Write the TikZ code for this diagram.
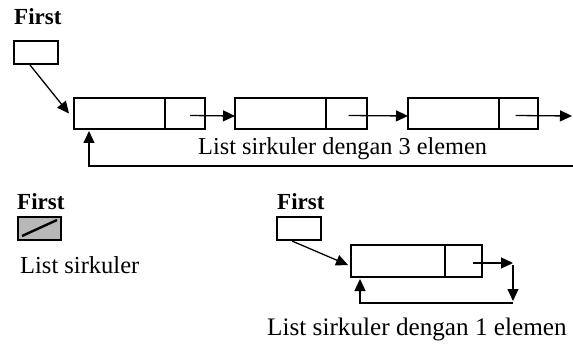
\documentclass[tikz,border=0pt]{standalone}
\usepackage{fontspec}
\setmainfont{Liberation Serif}
\usetikzlibrary{arrows.meta}
\begin{document}
\begin{tikzpicture}[x=1pt,y=-1pt,
  cell/.style={draw,line width=2pt,inner sep=0pt,outer sep=0pt,anchor=north west,minimum height=31pt},
  fbox/.style={draw,line width=1.6pt,inner sep=0pt,outer sep=0pt,anchor=north west,minimum width=44pt,minimum height=23pt},
  arr/.style={line width=1.3pt,-{Triangle[length=12pt,width=11pt]}},
  lbl/.style={font=\fontsize{24.3}{27}\selectfont,inner sep=0pt,anchor=base west},
  hdr/.style={font=\fontsize{23}{26}\selectfont\bfseries,inner sep=0pt,anchor=base west}]
\useasboundingbox (0,0) rectangle (573,350);
% top list
\node[hdr] (t1) at (14,25) {First};
\node[fbox] (f1) at (14,41) {};
\node[cell,minimum width=91pt] (d1) at (74,98) {};
\node[cell,minimum width=40pt] (p1) at (165,98) {};
\node[cell,minimum width=91pt] (d2) at (235,98) {};
\node[cell,minimum width=41pt] (p2) at (326,98) {};
\node[cell,minimum width=91pt] (d3) at (408,98) {};
\node[cell,minimum width=39pt] (p3) at (499,98) {};
\coordinate (e3) at (572,116);
\coordinate (r3) at (573,166);
\draw[arr] ([shift={(-6,1)}]f1.south) -- ([shift={(-5,0)}]d1.west);
\draw[arr] ([shift={(5,2)}]p1.center) -- (d2.west |- 0,116);
\draw[arr] ([shift={(2,2)}]p2.center) -- (d3.west |- 0,116);
\draw[arr] ([shift={(-3,2)}]p3.center) -- (e3);
\draw[arr] (r3) -| ([shift={(15,2)}]d1.south west);
\node[lbl] (t2) at (198,155) {List sirkuler dengan 3 elemen};
% empty list
\node[hdr] (t3) at (17,209) {First};
\node[fbox,fill=black!28,minimum width=43pt] (g) at (18,217) {};
\coordinate (g1) at (22,236);
\coordinate (g2) at (57,220);
\draw[line width=2.4pt] (g1) -- (g2);
\node[lbl,font=\fontsize{24.5}{27}\selectfont] (t4) at (20,273) {List sirkuler};
% one element
\node[hdr] (t5) at (277,209) {First};
\node[fbox] (f3) at (277,217) {};
\node[cell,minimum width=94pt,minimum height=32pt] (d4) at (351,245) {};
\node[cell,minimum width=37pt,minimum height=32pt,line width=1.2pt] (p4) at (445,245) {};
\draw[line width=2pt] (d4.north east) -- (d4.south east);
\coordinate (c1) at (513,263);
\coordinate (c2) at (513,301);
\draw[arr] ([shift={(-7,1)}]f3.south) -- ([shift={(-3,4)}]d4.west);
\draw[arr] ([shift={(9,2)}]p4.center) -- (c1);
\draw[arr] ([shift={(0,2)}]c1) -- (c2);
\draw[arr] ([shift={(0,2)}]c2) -| ([shift={(9,2)}]d4.south west);
\node[lbl,font=\fontsize{25.2}{28}\selectfont] (t6) at (267,335) {List sirkuler dengan 1 elemen};
\end{tikzpicture}
\end{document}
